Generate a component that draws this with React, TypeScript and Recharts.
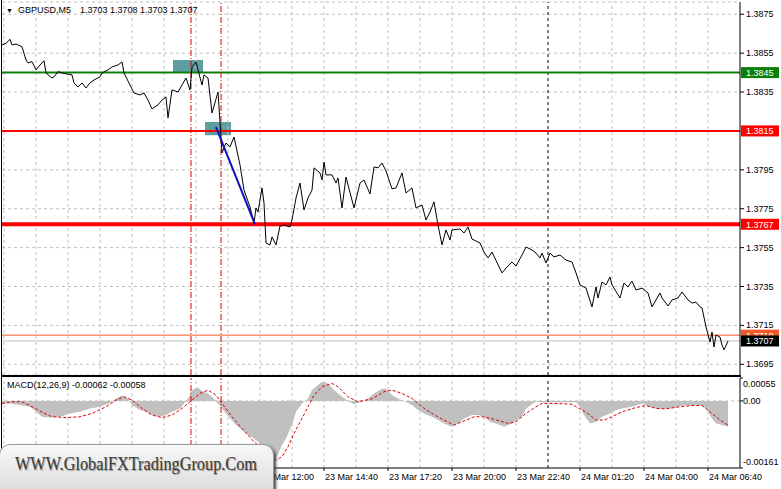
import { LineChart, ComposedChart, Line, Area, XAxis, YAxis, CartesianGrid, ReferenceLine, ReferenceArea } from 'recharts';

const FONT = "Tahoma, 'Liberation Sans', Arial, sans-serif";

// x = bar number on screen (one M5 candle each), 0 = first visible bar
const priceBars = [
  0, 2, 4, 5, 7, 10, 12, 13, 15, 17, 19, 21, 22, 25, 26, 28, 30, 35, 36, 38,
  40, 42, 44, 46, 49, 50, 53, 55, 58, 60, 61, 64, 66, 69, 71, 73, 75, 78, 80, 82,
  83, 85, 88, 90, 92, 94, 95, 97, 98, 100, 101, 103, 105, 108, 110, 112, 114, 116, 119, 121,
  124, 126, 127, 128, 130, 131, 132, 134, 135, 137, 139, 141, 144, 145, 147, 149, 151, 153, 155, 156,
  159, 160, 161, 162, 165, 167, 168, 170, 172, 176, 179, 181, 184, 186, 188, 190, 192, 195, 197, 200,
  202, 205, 207, 210, 212, 214, 216, 218, 220, 222, 224, 225, 229, 231, 233, 235, 239, 241, 243, 245,
  250, 252, 255, 257, 260, 262, 265, 267, 269, 270, 272, 274, 276, 279, 282, 285, 287, 289, 292, 295,
  297, 298, 300, 302, 304, 305, 309, 311, 313, 315, 317, 320, 323, 325, 329, 330, 333, 335, 338, 340,
  343, 345, 347, 349, 350, 352, 354, 355, 356, 357, 359, 360, 361, 363,
];
const closePrices = [
  1.38592, 1.38601, 1.38621, 1.38592, 1.38597, 1.38583, 1.38515, 1.385, 1.38506, 1.38464,
  1.38489, 1.38511, 1.38448, 1.38422, 1.38428, 1.38455, 1.38448, 1.38438, 1.38397, 1.38376,
  1.38397, 1.38371, 1.38397, 1.38412, 1.38428, 1.38448, 1.38464, 1.38479, 1.38489, 1.38505,
  1.38448, 1.38386, 1.38345, 1.38335, 1.38345, 1.38309, 1.38263, 1.38284, 1.38309, 1.38325,
  1.38217, 1.38361, 1.3835, 1.38386, 1.38422, 1.38361, 1.38479, 1.38505, 1.38464, 1.38386,
  1.38438, 1.38422, 1.38242, 1.3835, 1.38037, 1.38088, 1.38068, 1.38119, 1.37975, 1.37846,
  1.37759, 1.37677, 1.37754, 1.37733, 1.37857, 1.3778, 1.37574, 1.37564, 1.37605, 1.37564,
  1.37661, 1.37666, 1.37656, 1.37692, 1.37805, 1.37882, 1.37744, 1.37805, 1.37846, 1.3796,
  1.37934, 1.37898, 1.3799, 1.37924, 1.37924, 1.37882, 1.37908, 1.37754, 1.37913, 1.37754,
  1.37882, 1.37898, 1.37826, 1.37965, 1.3796, 1.37985, 1.37944, 1.37852, 1.37857, 1.37934,
  1.37831, 1.37857, 1.37754, 1.37769, 1.37692, 1.37733, 1.37785, 1.37666, 1.37564, 1.37641,
  1.37589, 1.37641, 1.37646, 1.37625, 1.37656, 1.37594, 1.37574, 1.37527, 1.37497, 1.37527,
  1.3742, 1.37445, 1.37476, 1.37456, 1.37512, 1.37553, 1.37538, 1.37522, 1.37497, 1.37522,
  1.37471, 1.37522, 1.37502, 1.37512, 1.37486, 1.37476, 1.3742, 1.37358, 1.37342, 1.37245,
  1.37348, 1.37291, 1.37373, 1.37358, 1.37399, 1.37358, 1.37291, 1.37368, 1.37348, 1.37378,
  1.37332, 1.37342, 1.37317, 1.37245, 1.37317, 1.37291, 1.3725, 1.37281, 1.37291, 1.37322,
  1.37281, 1.37265, 1.3727, 1.37245, 1.3724, 1.37142, 1.37065, 1.37116, 1.37039, 1.37101,
  1.3709, 1.37049, 1.37024, 1.3707,
];

const histBars = [
  0, 4, 9, 14, 17, 20, 24, 29, 34, 39, 44, 49, 54, 57, 60, 63, 65, 69, 72, 75,
  79, 82, 85, 89, 91, 93, 95, 98, 100, 103, 105, 108, 110, 114, 117, 122, 126, 131, 135, 137,
  140, 142, 145, 147, 150, 153, 155, 158, 160, 163, 166, 170, 173, 176, 180, 183, 186, 190, 192, 195,
  198, 201, 205, 208, 211, 215, 218, 221, 225, 228, 231, 235, 238, 241, 244, 247, 251, 255, 260, 262,
  265, 267, 271, 279, 287, 289, 291, 294, 297, 300, 304, 307, 310, 315, 320, 324, 327, 332, 337, 340,
  344, 349, 352, 355, 357, 360, 363,
];
const macdHist = [
  -0.00006, -0.00006, -0.0001, -0.00014, -0.00026, -0.00038, -0.0004, -0.00038, -0.0003, -0.00026,
  -0.00018, -0.00014, -0.00005, 0.00006, 0.00013, 0.00006, -0.0001, -0.00022, -0.00026, -0.00034,
  -0.00038, -0.00034, -0.00026, -0.00018, -0.00006, 0.00006, 0.00026, 0.00032, 0.00024, 0.00018,
  0.0001, -0.00006, -0.00018, -0.00042, -0.00058, -0.00078, -0.0009, -0.0011, -0.0013, -0.00138,
  -0.00106, -0.0009, -0.00058, -0.00026, -0.00006, 0.00006, 0.00026, 0.00038, 0.00046, 0.00042,
  0.00026, 0.0001, 0, -0.00008, -0.00002, 0.00006, 0.00018, 0.00029, 0.0003, 0.00014,
  0.00006, 0, -0.0001, -0.00022, -0.0003, -0.00038, -0.00046, -0.00054, -0.00062, -0.00054,
  -0.00042, -0.00034, -0.00034, -0.00038, -0.0005, -0.00054, -0.00062, -0.00054, -0.00038, -0.00018,
  -0.00008, -0.00002, -0.00003, -0.00003, -0.00003, -0.00014, -0.00034, -0.00054, -0.0005, -0.00038,
  -0.0003, -0.00022, -0.00018, -0.00014, -0.00006, -0.00014, -0.00018, -0.00019, -0.00016, -0.00011,
  -0.00011, -0.0001, -0.00018, -0.00042, -0.00054, -0.00058, -0.00062,
];

const signalBars = [
  0, 5, 10, 15, 20, 25, 32, 39, 45, 52, 57, 61, 65, 70, 75, 80, 85, 90, 95, 99,
  103, 107, 110, 115, 120, 126, 131, 137, 140, 143, 146, 150, 153, 156, 160, 165, 168, 173, 178, 185,
  191, 195, 200, 205, 210, 215, 221, 226, 231, 236, 241, 245, 249, 253, 257, 262, 267, 270, 277, 285,
  290, 294, 297, 301, 305, 310, 317, 322, 327, 332, 339, 345, 350, 354, 359, 363,
];
const macdSignal = [
  -0.00006, -0.00002, -0.00002, -0.00014, -0.00027, -0.00038, -0.0004, -0.00038, -0.0003, -0.00014,
  0.00002, 0.0001, 0.00002, -0.00018, -0.00034, -0.0004, -0.00034, -0.00018, 0.00002, 0.00018,
  0.00026, 0.00014, -0.00006, -0.00038, -0.00066, -0.00098, -0.00118, -0.00142, -0.00134, -0.0011,
  -0.00078, -0.00042, -0.00014, 0.00014, 0.00034, 0.00042, 0.00034, 0.0001, -0.00002, 0.00005,
  0.00022, 0.00026, 0.00018, 0.00006, -0.00014, -0.0003, -0.00046, -0.00058, -0.00048, -0.00038,
  -0.00038, -0.00043, -0.00048, -0.00054, -0.0005, -0.0003, -0.00014, -0.00006, -0.00006, -0.00008,
  -0.00022, -0.00034, -0.00046, -0.00046, -0.00038, -0.00026, -0.00016, -0.00011, -0.00018, -0.00019,
  -0.00014, -0.00011, -0.00011, -0.00026, -0.00046, -0.00058,
];

// 1.3815 sits under the red level tag, so it is left out
const priceTicks = [1.3695, 1.3715, 1.3735, 1.3755, 1.3775, 1.3795, 1.3835, 1.3855, 1.3875];
const macdTicks = [-0.00161, 0, 0.00055];
const macdTickLabels = ['-0.00161', '0.00', '0.00055'];

const timeBars = [129, 161, 193, 225, 257, 289, 321, 353];
const timeLabels = [
  '23 Mar 12:00', '23 Mar 14:40', '23 Mar 17:20', '23 Mar 20:00',
  '23 Mar 22:40', '24 Mar 01:20', '24 Mar 04:00', '24 Mar 06:40',
];
// grid every 16 bars, same as the terminal
const gridBars = Array.from({ length: 23 }, (_, k) => 1 + 16 * k).filter((b) => b !== 273);

const entryBars = [94.5, 109.5];
const dayBreakBar = 273;

const supportLevel = 1.3767;
const sellLevel = 1.3815;
const buyLevel = 1.3845;
const askPrice = 1.371;
const bidPrice = 1.3707;

const trendFrom = { x: 107, y: 1.3817 };
const trendTo = { x: 126.5, y: 1.3767 };

const priceData = priceBars.map((bar, i) => ({ bar, price: closePrices[i] }));
const histData = histBars.map((bar, i) => ({ bar, hist: macdHist[i] }));
const signalData = signalBars.map((bar, i) => ({ bar, signal: macdSignal[i] }));

const X_DOMAIN: [number, number] = [0, 369];

const PriceTick = ({ x, y, payload }: any) => (
  <text x={x} y={y + 3} fontSize={9} fontFamily={FONT} fill="#000" textAnchor="start">
    {payload.value.toFixed(4)}
  </text>
);

const MacdTick = ({ x, y, payload, index }: any) => {
  const shift = payload.value > 0 ? 9 : payload.value < 0 ? -3 : 3;
  return (
    <text x={x} y={y + shift} fontSize={9} fontFamily={FONT} fill="#000" textAnchor="start">
      {macdTickLabels[index]}
    </text>
  );
};

const TimeTick = ({ x, y, index }: any) => (
  <text x={x + 1} y={y + 7} fontSize={9} fontFamily={FONT} fill="#000" textAnchor="start">
    {timeLabels[index]}
  </text>
);

const LevelTag = ({ viewBox, value, bg }: any) => {
  const left = viewBox.x + viewBox.width + 1;
  return (
    <g>
      <rect x={left} y={viewBox.y - 5.5} width={38} height={11} fill={bg} />
      <text x={left + 5} y={viewBox.y + 3.5} fontSize={9} fontFamily={FONT} fill="#fff">
        {value.toFixed(4)}
      </text>
    </g>
  );
};

export default function App() {
  return (
    <div style={{ position: 'absolute', left: 0, top: 0, width: 781, height: 489, overflow: 'hidden', background: '#fff', fontFamily: FONT }}>
      <div style={{ position: 'absolute', left: 0, top: 0 }}>
        <LineChart width={781} height={376} data={priceData} margin={{ top: 2, right: 0, bottom: 1, left: 2 }}>
          <CartesianGrid vertical={false} stroke="#c0c0c0" strokeDasharray="3 3" />
          <XAxis dataKey="bar" type="number" domain={X_DOMAIN} allowDataOverflow hide />
          <YAxis
            orientation="right"
            width={41}
            domain={[1.36895, 1.38813]}
            ticks={priceTicks}
            allowDataOverflow
            interval={0}
            axisLine={{ stroke: '#000' }}
            tickLine={{ stroke: '#000' }}
            tickSize={4}
            tick={<PriceTick />}
          />
          {gridBars.map((b) => (
            <ReferenceLine key={b} x={b} stroke="#c0c0c0" strokeDasharray="3 3" />
          ))}
          <ReferenceLine x={dayBreakBar} stroke="#000" strokeDasharray="3 3" />
          <ReferenceArea x1={85.5} x2={100.5} y1={buyLevel} y2={1.38515} fill="#5f9ea0" fillOpacity={1} stroke="none" />
          <ReferenceArea x1={101.5} x2={114.5} y1={1.38128} y2={1.38196} fill="#5f9ea0" fillOpacity={1} stroke="none" />
          <ReferenceLine y={askPrice} stroke="#f05a28" strokeWidth={1} label={<LevelTag value={askPrice} bg="#f05a28" />} />
          <ReferenceLine y={bidPrice} stroke="#c0c0c0" strokeWidth={1} label={<LevelTag value={bidPrice} bg="#000" />} />
          <ReferenceLine y={buyLevel} stroke="#0a800a" strokeWidth={2} label={<LevelTag value={buyLevel} bg="#0a800a" />} />
          <ReferenceLine y={sellLevel} stroke="#ff0000" strokeWidth={2} label={<LevelTag value={sellLevel} bg="#ff0000" />} />
          <ReferenceLine y={supportLevel} stroke="#ff0000" strokeWidth={4} label={<LevelTag value={supportLevel} bg="#ff0000" />} />
          {entryBars.map((b) => (
            <ReferenceLine key={b} x={b} stroke="#e00000" strokeDasharray="6 2 1 2" />
          ))}
          <Line type="linear" dataKey="price" stroke="#000" strokeWidth={1} dot={false} isAnimationActive={false} />
          <ReferenceLine segment={[trendFrom, trendTo]} stroke="#1010c0" strokeWidth={2} />
        </LineChart>
      </div>

      <div style={{ position: 'absolute', left: 1, top: 0, width: 1, height: 468, background: '#000' }} />
      <div style={{ position: 'absolute', left: 1, top: 375, width: 740, height: 1, background: '#000' }} />

      <div style={{ position: 'absolute', left: 0, top: 376 }}>
        <ComposedChart width={781} height={112} margin={{ top: 2, right: 0, bottom: 0, left: 2 }}>
          <XAxis
            dataKey="bar"
            type="number"
            domain={X_DOMAIN}
            allowDataOverflow
            ticks={timeBars}
            interval={0}
            height={20}
            axisLine={{ stroke: '#000' }}
            tickLine={{ stroke: '#000' }}
            tickSize={3}
            tick={<TimeTick />}
          />
          <YAxis
            orientation="right"
            width={41}
            domain={[-0.00161, 0.00055]}
            ticks={macdTicks}
            allowDataOverflow
            interval={0}
            axisLine={{ stroke: '#000' }}
            tickLine={{ stroke: '#000' }}
            tickSize={3}
            tickMargin={0}
            tick={<MacdTick />}
          />
          {gridBars.map((b) => (
            <ReferenceLine key={b} x={b} stroke="#c0c0c0" strokeDasharray="3 3" />
          ))}
          <ReferenceLine y={0} stroke="#c0c0c0" strokeDasharray="3 3" />
          <Area
            data={histData}
            type="linear"
            dataKey="hist"
            baseValue={0}
            stroke="none"
            fill="#c0c0c0"
            fillOpacity={1}
            isAnimationActive={false}
          />
          <ReferenceLine x={dayBreakBar} stroke="#000" strokeDasharray="3 3" />
          {entryBars.map((b) => (
            <ReferenceLine key={b} x={b} stroke="#e00000" strokeDasharray="6 2 1 2" />
          ))}
          <Line
            data={signalData}
            type="linear"
            dataKey="signal"
            stroke="#e00000"
            strokeWidth={1}
            strokeDasharray="3 2"
            dot={false}
            isAnimationActive={false}
          />
        </ComposedChart>
      </div>

      <div style={{ position: 'absolute', left: 1, top: 376, width: 740, height: 1, background: '#000' }} />

      <div style={{ position: 'absolute', left: 6, top: 5, fontSize: 7, lineHeight: '11px', color: '#000' }}>▼</div>
      <div style={{ position: 'absolute', left: 18, top: 5, fontSize: 9, lineHeight: '11px', color: '#000', whiteSpace: 'pre' }}>
        GBPUSD,M5
      </div>
      <div style={{ position: 'absolute', left: 80, top: 5, fontSize: 9, lineHeight: '11px', color: '#000', whiteSpace: 'pre' }}>
        1.3703 1.3708 1.3703 1.3707
      </div>
      <div style={{ position: 'absolute', left: 7, top: 380, fontSize: 9, lineHeight: '11px', color: '#000', whiteSpace: 'pre' }}>
        MACD(12,26,9) -0.00062 -0.00058
      </div>

      <div
        style={{
          position: 'absolute',
          left: -1,
          top: 444,
          width: 273,
          height: 56,
          borderRadius: 11,
          background: 'linear-gradient(#f8f8f8, #d6d6d6)',
          border: '1px solid #9a9a9a',
          boxShadow: '2px 2px 3px #444',
        }}
      >
        <svg width={273} height={44} style={{ position: 'absolute', left: 0, top: 0, overflow: 'visible' }}>
          <text
            x={15}
            y={25}
            fontSize={18}
            fontFamily="'Liberation Serif', 'Times New Roman', serif"
            fill="#3a3a3a"
            textLength={242}
            lengthAdjust="spacingAndGlyphs"
            style={{ textShadow: '1px 1px 1px #999' }}
          >
            WWW.GlobalFXTradingGroup.Com
          </text>
        </svg>
      </div>
    </div>
  );
}
